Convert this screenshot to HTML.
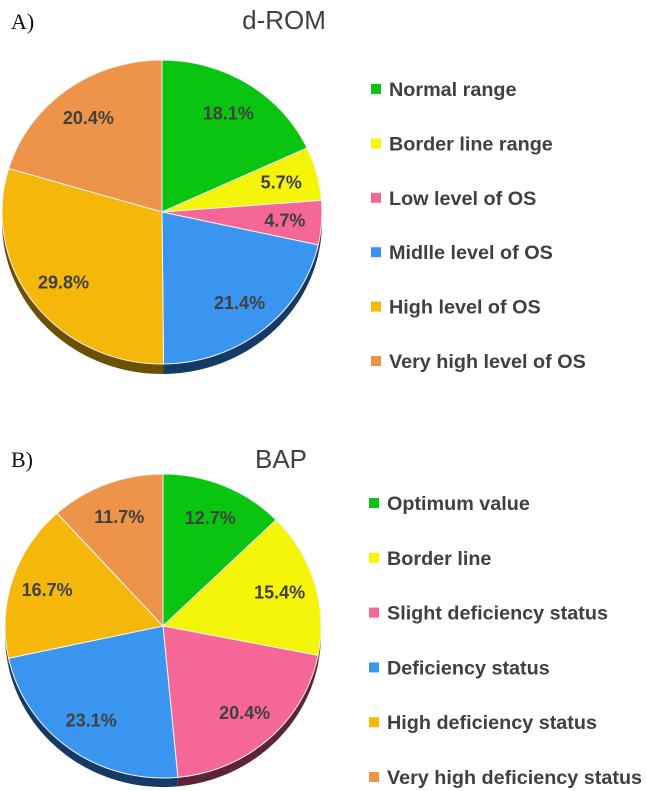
<!DOCTYPE html>
<html><head><meta charset="utf-8"><style>
html,body{margin:0;padding:0;background:#fff;}
svg{display:block;}
</style></head><body>
<svg id="chart" width="646" height="791" xmlns="http://www.w3.org/2000/svg">
<text x="11" y="29" font-family="Liberation Serif, serif" font-size="22" fill="#111">A)</text>
<text x="284" y="29" text-anchor="middle" font-family="Liberation Sans, sans-serif" font-size="26" fill="#404040">d-ROM</text>
<text x="11" y="467" font-family="Liberation Serif, serif" font-size="22" fill="#111">B)</text>
<text x="281" y="468" text-anchor="middle" font-family="Liberation Sans, sans-serif" font-size="26" fill="#404040">BAP</text>
</svg>
<script>
const colors = ['#09c50f','#f5f50a','#f46796','#3a95f0','#f5b70a','#ee944a'];
const sideColors = ['#055f08','#6e6e05','#5e2436','#163a66','#6b5005','#6a4020'];
const catsA = ['Normal range','Border line range','Low level of OS','Midlle level of OS','High level of OS','Very high level of OS'];
const valsA = [18.1, 5.7, 4.7, 21.4, 29.8, 20.4];
const catsB = ['Optimum value','Border line','Slight deficiency status','Deficiency status','High deficiency status','Very high deficiency status'];
const valsB = [12.7, 15.4, 20.4, 23.1, 16.7, 11.7];

const NS='http://www.w3.org/2000/svg';
const svg=document.getElementById('chart');
function mk(tag,attrs){const e=document.createElementNS(NS,tag);for(const k in attrs)e.setAttribute(k,attrs[k]);return e;}

function drawPie(cats, vals, cx, cy, rx, ry, depth, legX, legY0, legStep, key){
  const total = vals.reduce((a,b)=>a+b,0);
  const pt=(t,dy)=>[cx+rx*Math.sin(t), cy-ry*Math.cos(t)+(dy||0)];
  const g=mk('g',{});
  
  
  svg.appendChild(g);
  let acc=0;
  const angles=vals.map(v=>{const a0=acc/total*2*Math.PI;acc+=v;return [a0,acc/total*2*Math.PI];});
  angles.forEach(([a0,a1],i)=>{
    const s=Math.max(a0,Math.PI/2), e=Math.min(a1,3*Math.PI/2);
    if(e<=s) return;
    const top=[],bot=[];
    for(let k=0;k<=40;k++){const t=s+(e-s)*k/40;top.push(pt(t,0));bot.unshift(pt(t,depth));}
    const side=mk('polygon',{points:top.concat(bot).map(p=>p.join(',')).join(' '),fill:sideColors[i]});
    
    
    g.appendChild(side);
  });
  angles.forEach(([a0,a1],i)=>{
    const p0=pt(a0),p1=pt(a1);
    const large=(a1-a0)>Math.PI?1:0;
    const path=mk('path',{d:`M${cx},${cy} L${p0[0]},${p0[1]} A${rx},${ry} 0 ${large} 1 ${p1[0]},${p1[1]} Z`,fill:colors[i],stroke:'#f4f4f4','stroke-width':1});
    
    
    g.appendChild(path);
  });
  angles.forEach(([a0,a1],i)=>{
    const m=(a0+a1)/2;
    const x=cx+0.77*rx*Math.sin(m), y=cy-0.77*ry*Math.cos(m);
    const t=mk('text',{x:x,y:y+6,'text-anchor':'middle','font-family':'Liberation Sans, sans-serif','font-size':18,'font-weight':'bold',fill:'#404040'});
    t.textContent=vals[i].toFixed(1)+'%';
    
    
    g.appendChild(t);
  });
  cats.forEach((c,i)=>{
    const y=legY0+i*legStep;
    const lg=mk('g',{});
    
    
    const r=mk('rect',{x:legX,y:y-5,width:10,height:10,fill:colors[i]});
    
    
    const t=mk('text',{x:legX+18,y:y+7,'font-family':'Liberation Sans, sans-serif','font-size':19.8,'font-weight':'bold',fill:'#404040'});
    t.textContent=c;
    
    
    lg.appendChild(r);lg.appendChild(t);svg.appendChild(lg);
  });
}
drawPie(catsA, valsA, 162, 212, 160, 152, 10, 371, 89, 54.4, 'drom');
drawPie(catsB, valsB, 163, 626, 158, 152, 9, 369, 503, 54.8, 'bap');
</script>
</body></html>
